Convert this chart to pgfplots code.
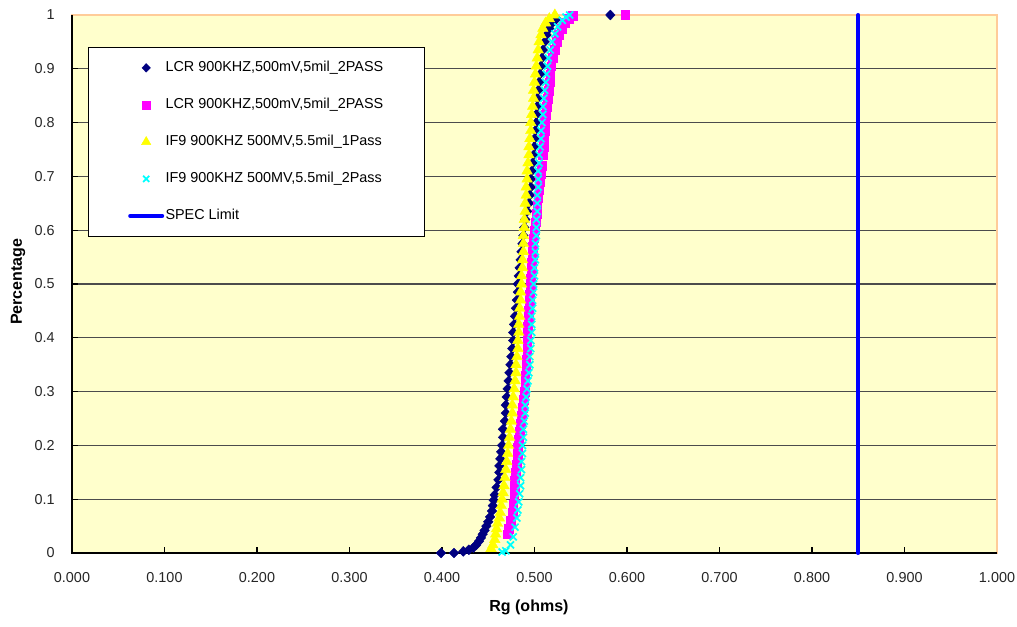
\documentclass[border=0pt]{standalone}
\usepackage{pgfplots}
\pgfplotsset{compat=1.18}
\usepackage{fontspec}
\setmainfont{Liberation Sans}
\definecolor{bgyellow}{HTML}{FFFFCC}
\definecolor{peach}{HTML}{FFCC99}
\definecolor{navyc}{HTML}{000080}
\definecolor{magc}{HTML}{FF00FF}
\definecolor{yelc}{HTML}{FFFF00}
\definecolor{cyac}{HTML}{00FFFF}
\definecolor{specblue}{HTML}{0000FF}
\begin{document}
\begin{tikzpicture}
\begin{axis}[
  scale only axis, width=693.75pt, height=403.5pt,
  anchor=south west, at={(0,0)},
  xmin=0, xmax=1, ymin=0, ymax=1,
  clip=false,
  xtick={0,0.1,0.2,0.3,0.4,0.5,0.6,0.7,0.8,0.9,1},
  ytick={0,0.1,0.2,0.3,0.4,0.5,0.6,0.7,0.8,0.9,1},
  xtick pos=bottom, ytick pos=left,
  axis line style={peach, line width=1pt},
  axis background/.style={fill=bgyellow},
  ymajorgrids, grid style={black!70, line width=0.8pt},
  tick align=inside, major tick length=4.5pt, tick style={black, line width=0.8pt},
  /pgf/number format/assume math mode=true,
  tick label style={font=\fontsize{10.8}{13}\selectfont, text=black!85},
  xticklabel style={/pgf/number format/.cd, fixed, fixed zerofill, precision=3, /tikz/.cd, yshift=-11pt},
  yticklabel style={xshift=-9.5pt},
  xlabel={Rg (ohms)}, ylabel={Percentage},
  label style={font=\bfseries\fontsize{12}{14}\selectfont},
  xlabel style={at={(axis description cs:0.494,-0.102)}, anchor=center},
  ylabel style={at={(axis description cs:-0.0584,0.504)}, anchor=center, rotate=0},
  legend image code/.code={\draw[mark repeat=2,mark phase=2,#1,every mark/.append style={scale=0.88}] plot coordinates {(0pt,0pt)(12pt,0pt)(24pt,0pt)};},
  legend cell align=left,
  legend style={at={(axis description cs:0.0173,0.9405)}, anchor=north west,
    draw=black, fill=white, line width=0.8pt, inner xsep=29.75pt, inner ysep=9pt,
    row sep=15.25pt,
    nodes={inner sep=1pt, text height=8pt, text depth=2.5pt},
    font=\fontsize{10.8}{13}\selectfont},
]
\draw[peach, line width=1pt] (rel axis cs:0,1) -- (rel axis cs:1,1) -- (rel axis cs:1,0);
\draw[black, line width=0.9pt] (rel axis cs:0,1) -- (rel axis cs:0,0) -- (rel axis cs:1,0);

\addplot[only marks, mark=diamond*, mark size=3.7pt, color=navyc, mark options={xscale=1.3, fill=navyc, draw=navyc, line width=0.3pt}] coordinates {
(0.399,0.000) (0.413,0.000) (0.423,0.003) (0.429,0.006) (0.434,0.010) (0.437,0.015)
(0.440,0.022) (0.442,0.028) (0.444,0.035) (0.446,0.042) (0.448,0.050) (0.450,0.058)
(0.452,0.067) (0.454,0.078) (0.455,0.088) (0.456,0.098) (0.457,0.108) (0.459,0.122)
(0.461,0.136) (0.462,0.150) (0.462,0.162) (0.463,0.175) (0.464,0.188) (0.465,0.200)
(0.466,0.215) (0.466,0.230) (0.468,0.245) (0.469,0.260) (0.469,0.275) (0.470,0.290)
(0.471,0.305) (0.472,0.320) (0.473,0.335) (0.474,0.350) (0.475,0.365) (0.476,0.380)
(0.477,0.395) (0.477,0.410) (0.478,0.425) (0.479,0.440) (0.480,0.455) (0.481,0.470)
(0.482,0.485) (0.482,0.500) (0.483,0.515) (0.484,0.530) (0.485,0.545) (0.486,0.560)
(0.487,0.575) (0.488,0.590) (0.489,0.605) (0.490,0.620) (0.492,0.635) (0.494,0.650)
(0.495,0.665) (0.496,0.680) (0.496,0.695) (0.497,0.710) (0.498,0.725) (0.499,0.740)
(0.500,0.755) (0.500,0.770) (0.501,0.785) (0.502,0.800) (0.502,0.815) (0.503,0.830)
(0.503,0.845) (0.504,0.860) (0.505,0.875) (0.506,0.890) (0.507,0.905) (0.508,0.920)
(0.509,0.935) (0.511,0.950) (0.513,0.963) (0.516,0.975) (0.519,0.985) (0.524,0.993)
(0.582,1.000)
};
\addlegendentry{LCR 900KHZ,500mV,5mil\_2PASS}

\addplot[only marks, mark=square*, mark size=3.3pt, color=magc, mark options={fill=magc, draw=magc, line width=0.3pt}] coordinates {
(0.471,0.035) (0.472,0.045) (0.474,0.060) (0.476,0.075) (0.477,0.090) (0.478,0.105)
(0.479,0.120) (0.479,0.135) (0.480,0.150) (0.481,0.165) (0.482,0.180) (0.482,0.195)
(0.483,0.210) (0.484,0.225) (0.485,0.240) (0.486,0.255) (0.487,0.270) (0.488,0.285)
(0.489,0.300) (0.490,0.315) (0.490,0.330) (0.491,0.345) (0.491,0.360) (0.492,0.375)
(0.492,0.390) (0.492,0.405) (0.493,0.420) (0.494,0.435) (0.494,0.450) (0.495,0.465)
(0.495,0.480) (0.496,0.495) (0.496,0.510) (0.497,0.525) (0.497,0.540) (0.498,0.555)
(0.498,0.570) (0.499,0.585) (0.500,0.600) (0.501,0.615) (0.502,0.630) (0.503,0.645)
(0.504,0.660) (0.505,0.675) (0.506,0.690) (0.507,0.705) (0.508,0.720) (0.509,0.740)
(0.510,0.755) (0.510,0.770) (0.511,0.785) (0.511,0.800) (0.512,0.815) (0.513,0.830)
(0.514,0.845) (0.515,0.860) (0.516,0.875) (0.517,0.890) (0.518,0.905) (0.520,0.920)
(0.522,0.935) (0.524,0.950) (0.526,0.963) (0.529,0.975) (0.533,0.985) (0.537,0.993)
(0.541,0.998) (0.598,1.000)
};
\addlegendentry{LCR 900KHZ,500mV,5mil\_2PASS}

\addplot[only marks, mark=triangle*, mark size=4.6pt, color=yelc, mark options={fill=yelc, draw=yelc, line width=0.3pt}] coordinates {
(0.453,0.008) (0.455,0.015) (0.457,0.025) (0.458,0.035) (0.459,0.045) (0.460,0.055)
(0.462,0.065) (0.463,0.075) (0.464,0.088) (0.465,0.100) (0.466,0.112) (0.467,0.125)
(0.468,0.140) (0.469,0.155) (0.470,0.170) (0.471,0.185) (0.472,0.200) (0.473,0.215)
(0.474,0.230) (0.475,0.245) (0.476,0.260) (0.476,0.275) (0.477,0.290) (0.478,0.305)
(0.479,0.320) (0.480,0.335) (0.480,0.350) (0.481,0.365) (0.482,0.380) (0.482,0.395)
(0.483,0.410) (0.483,0.425) (0.484,0.440) (0.484,0.455) (0.485,0.470) (0.485,0.485)
(0.486,0.500) (0.486,0.515) (0.487,0.530) (0.487,0.545) (0.488,0.560) (0.488,0.575)
(0.488,0.590) (0.489,0.605) (0.489,0.620) (0.490,0.635) (0.490,0.650) (0.491,0.665)
(0.491,0.680) (0.492,0.695) (0.492,0.710) (0.493,0.725) (0.494,0.740) (0.494,0.755)
(0.495,0.770) (0.496,0.785) (0.496,0.800) (0.497,0.815) (0.498,0.830) (0.499,0.845)
(0.499,0.860) (0.500,0.875) (0.501,0.890) (0.502,0.905) (0.503,0.920) (0.504,0.935)
(0.505,0.950) (0.507,0.963) (0.509,0.975) (0.512,0.985) (0.516,0.993) (0.522,1.000)
};
\addlegendentry{IF9 900KHZ 500MV,5.5mil\_1Pass}

\addplot[only marks, mark=x, mark size=3.7pt, color=cyac, mark options={draw=cyac, line width=1.3pt}] coordinates {
(0.465,0.002) (0.469,0.004) (0.474,0.015) (0.477,0.030) (0.479,0.048) (0.481,0.065)
(0.482,0.080) (0.483,0.095) (0.484,0.110) (0.485,0.125) (0.485,0.140) (0.486,0.155)
(0.486,0.170) (0.487,0.185) (0.487,0.200) (0.488,0.215) (0.488,0.230) (0.489,0.245)
(0.490,0.260) (0.490,0.275) (0.491,0.290) (0.492,0.305) (0.493,0.320) (0.494,0.335)
(0.495,0.350) (0.495,0.365) (0.496,0.380) (0.496,0.395) (0.497,0.410) (0.497,0.425)
(0.497,0.440) (0.498,0.455) (0.498,0.470) (0.499,0.485) (0.499,0.500) (0.500,0.515)
(0.500,0.530) (0.501,0.545) (0.501,0.560) (0.501,0.575) (0.502,0.590) (0.502,0.605)
(0.502,0.620) (0.503,0.635) (0.503,0.650) (0.503,0.665) (0.504,0.680) (0.504,0.695)
(0.504,0.710) (0.505,0.725) (0.505,0.740) (0.506,0.755) (0.507,0.770) (0.507,0.785)
(0.508,0.800) (0.509,0.815) (0.509,0.830) (0.510,0.845) (0.511,0.860) (0.512,0.875)
(0.513,0.890) (0.514,0.905) (0.515,0.920) (0.517,0.935) (0.519,0.950) (0.522,0.965)
(0.525,0.978) (0.530,0.990) (0.534,0.996) (0.538,1.000)
};
\addlegendentry{IF9 900KHZ 500MV,5.5mil\_2Pass}

\addplot[specblue, line width=3pt, line cap=round] coordinates {(0.85,0) (0.85,1)};
\addlegendentry{SPEC Limit}
\end{axis}
\pgfresetboundingbox
\path (-54pt,-55.5pt) rectangle (708.75pt,414.75pt);
\end{tikzpicture}
\end{document}
